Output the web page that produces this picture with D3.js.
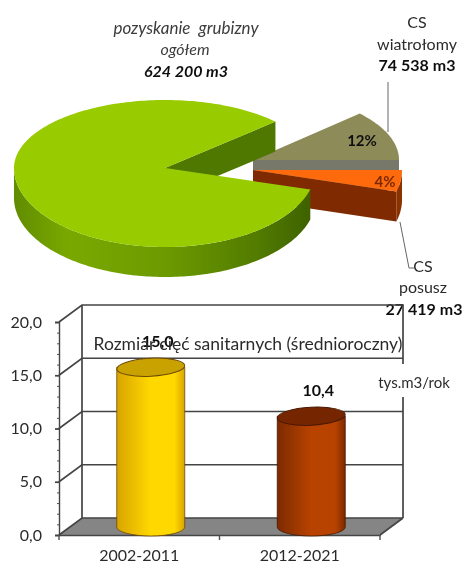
<!DOCTYPE html>
<html lang="pl">
<head>
  <meta charset="UTF-8">
  <title>Pozyskanie grubizny</title>
  <style>
    html, body { margin: 0; background: #fff; }
    svg { display: block; }
    text { font-family: Lato, "Open Sans", sans-serif; font-size: 16px; fill: #2c2c2c; }
    .bold { font-weight: 700; fill: #111; }
    .ital { font-style: italic; fill: #3c3c3c; }
    .axis path, .axis line, .frame { fill: none; stroke: #444; stroke-width: 1.7px; }
    .axis .domain { stroke-width: 1.4px; }
    .minor line { stroke: #555; stroke-width: 1px; }
    .leader { fill: none; stroke: #666; stroke-width: 1px; }
  </style>
</head>
<body>
  <script src="https://cdnjs.cloudflare.com/ajax/libs/d3/7.8.5/d3.min.js"></script>
  <script>
    // dane
    var totalVolume = 624200;
    var pieNames = ["CS wiatrolomy", "CS posusz", "pozostale"];
    var pieValues = [74538, 27419, totalVolume - 74538 - 27419];
    var barCategories = ["2002-2011", "2012-2021"];
    var barValues = [15.0, 10.4];
    var yTicks = [0, 5, 10, 15, 20];
    var yMinorTicks = d3.range(0, 21);

    // wyglad
    var sliceLayout = [
      {cx: 253, cy: 160, rx: 146, top: "#8d8b59", wall: "#78786a", cut: "#78786a"},
      {cx: 253, cy: 170, rx: 149, top: "#ff6a0d", wall: "#8c3000", cut: "#7f2c00"},
      {cx: 165, cy: 168, rx: 151, top: "#99cc00", wall: "#6a9800", cut: "#4f7800"}
    ];
    var ryBack = 68, ryFront = 79, depth = 30;
    var barColors = [
      {edge: "#d9a400", mid: "#ffd800", top: "#c9a200", line: "#6e4a00"},
      {edge: "#7c2a00", mid: "#b84300", top: "#742800", line: "#4a1800"}
    ];

    var svg = d3.select("body").append("svg").attr("width", 465).attr("height", 565);
    var defs = svg.append("defs");
    defs.append("filter").attr("id", "soft").attr("x", 0).attr("y", 0).attr("width", 1).attr("height", 1)
      .append("feGaussianBlur").attr("stdDeviation", 0.6);
    var root = svg.append("g").attr("filter", "url(#soft)");

    root.append("rect").attr("width", 465).attr("height", 565).attr("fill", "#fff");

    // --- wykres kolowy ---
    function project(s, angle, drop) {
      var v = -Math.cos(angle);
      return [s.cx + s.rx * Math.sin(angle), s.cy + v * (v < 0 ? ryBack : ryFront) + (drop || 0)];
    }

    function samples(a0, a1) {
      var n = Math.max(2, Math.ceil(Math.abs(a1 - a0) / 0.02));
      return d3.range(n + 1).map(function (i) { return a0 + (a1 - a0) * i / n; });
    }

    var greenWall = defs.append("linearGradient").attr("id", "greenWall")
      .attr("gradientUnits", "userSpaceOnUse")
      .attr("x1", 14).attr("x2", 316).attr("y1", 0).attr("y2", 0);
    [[0, "#618c00"], [0.18, "#79a900"], [0.5, "#6c9a00"], [0.8, "#527c00"], [1, "#3c5f00"]].forEach(function (d) {
      greenWall.append("stop").attr("offset", d[0]).attr("stop-color", d[1]);
    });

    var line = d3.line();
    var pie = d3.pie().sort(null).startAngle(47 * Math.PI / 180).endAngle(407 * Math.PI / 180);
    var arcs = pie(pieValues);
    var pieG = root.append("g");

    arcs.forEach(function (d, i) {
      var s = sliceLayout[i];
      var g = pieG.append("g");
      // sciana zewnetrzna (tylko przednia polowa)
      var w0 = Math.max(d.startAngle, Math.PI / 2), w1 = Math.min(d.endAngle, Math.PI * 1.5);
      if (w1 > w0) {
        var upper = samples(w0, w1).map(function (a) { return project(s, a, 0); });
        var lower = samples(w1, w0).map(function (a) { return project(s, a, depth); });
        g.append("path").attr("d", line(upper.concat(lower)) + "Z")
          .attr("fill", i === 2 ? "url(#greenWall)" : s.wall);
      }
      // sciana ciecia widoczna od przodu
      [[d.startAngle, -1], [d.endAngle, 1]].forEach(function (e) {
        if (Math.sin(e[0]) * e[1] > 0) {
          var p = project(s, e[0], 0), q = project(s, e[0], depth);
          g.append("path")
            .attr("d", line([[s.cx, s.cy], p, q, [s.cx, s.cy + depth]]) + "Z")
            .attr("fill", s.cut);
        }
      });
      var top = samples(d.startAngle, d.endAngle).map(function (a) { return project(s, a, 0); });
      g.append("path").attr("d", line([[s.cx, s.cy]].concat(top)) + "Z").attr("fill", s.top);
    });

    var pct = d3.format(".0%");
    root.append("text").attr("class", "bold").attr("x", 362).attr("y", 146).attr("text-anchor", "middle")
      .style("font-size", "15px").text(pct(pieValues[0] / totalVolume));
    root.append("text").attr("class", "bold").attr("x", 385).attr("y", 187).attr("text-anchor", "middle")
      .style("font-size", "15px").style("fill", "#7a2a00").text(pct(pieValues[1] / totalVolume));

    root.append("path").attr("class", "leader").attr("d", "M388,82V132");
    root.append("path").attr("class", "leader").attr("d", "M400,222L409,268H414");

    function label(x, y, str, cls) {
      return root.append("text").attr("x", x).attr("y", y).attr("text-anchor", "middle").attr("class", cls || null).text(str);
    }
    var num = function (v) { return d3.format(",")(v).replace(/,/g, " "); };
    label(186, 34, "pozyskanie  grubizny", "ital").style("white-space", "pre").style("font-size", "17px");
    label(185, 55, "ogółem", "ital");
    label(186, 77, num(totalVolume) + " m3", "bold").style("font-style", "italic");
    label(417, 28, "CS");
    label(417, 50, "wiatrołomy");
    label(417, 71, num(pieValues[0]) + " m3", "bold");
    label(423, 272, "CS");
    label(423, 293, "posusz");
    label(424, 315, num(pieValues[1]) + " m3", "bold");

    // --- wykres slupkowy 3D ---
    var depthX = 23, depthY = 17;
    var y = d3.scaleLinear().domain([0, 20]).range([535, 322]);
    var x = d3.scaleBand().domain(barCategories).range([59, 380]);
    var comma = function (v) { return d3.format(".1f")(v).replace(".", ","); };
    var chart = root.append("g");

    // podloga
    chart.append("path").attr("fill", "#858585")
      .attr("d", line([[x.range()[0], y(0)], [x.range()[0] + depthX, y(0) - depthY],
        [x.range()[1] + depthX, y(0) - depthY], [x.range()[1], y(0)]]) + "Z");

    // sciana tylna i siatka
    chart.selectAll(".grid").data(yTicks).enter().append("path").attr("class", "frame")
      .attr("d", function (d) {
        return line([[x.range()[0], y(d)], [x.range()[0] + depthX, y(d) - depthY], [x.range()[1] + depthX, y(d) - depthY]]);
      });
    chart.append("path").attr("class", "frame")
      .attr("d", line([[x.range()[0] + depthX, y(0) - depthY], [x.range()[0] + depthX, y(20) - depthY]]));
    chart.append("path").attr("class", "frame")
      .attr("d", line([[x.range()[1] + depthX, y(0) - depthY], [x.range()[1] + depthX, y(20) - depthY]]));
    chart.append("path").attr("class", "frame")
      .attr("d", line([[x.range()[1], y(0)], [x.range()[1] + depthX, y(0) - depthY]]));

    chart.append("g").attr("class", "axis minor").attr("transform", "translate(59,0)")
      .call(d3.axisLeft(y).tickValues(yMinorTicks).tickSize(2).tickFormat(""))
      .select(".domain").remove();
    chart.append("g").attr("class", "axis").attr("transform", "translate(59,0)")
      .call(d3.axisLeft(y).tickValues(yTicks).tickSize(4).tickPadding(13).tickFormat(comma));
    chart.append("g").attr("class", "axis").attr("transform", "translate(0,535)")
      .call(d3.axisBottom(x).tickValues(barCategories).tickSize(0).tickPadding(15));
    chart.selectAll(".bTick").data([0, 1, 2]).enter().append("line")
      .attr("stroke", "#4d4d4d").attr("stroke-width", 1.4)
      .attr("x1", function (d) { return 59 + x.step() * d; })
      .attr("x2", function (d) { return 59 + x.step() * d; })
      .attr("y1", 535).attr("y2", 540);

    // cylindry
    var barRx = 34, barRy = 9, barShiftX = 11.5, barShiftY = 8;
    barValues.forEach(function (v, i) {
      var c = barColors[i];
      var grad = defs.append("linearGradient").attr("id", "cyl" + i);
      [[0, c.edge], [0.5, c.mid], [0.85, c.mid], [1, c.edge]].forEach(function (d) {
        grad.append("stop").attr("offset", d[0]).attr("stop-color", d[1]);
      });
      var cx = x(barCategories[i]) + x.bandwidth() / 2 + barShiftX;
      var yTop = y(v) - barShiftY, yBase = y(0) - barShiftY;
      var g = chart.append("g");
      g.append("path").attr("fill", "url(#cyl" + i + ")").attr("stroke", c.line).attr("stroke-width", 0.8)
        .attr("d", "M" + (cx - barRx) + "," + yTop + "V" + yBase
          + "A" + barRx + "," + barRy + " 0 0 0 " + (cx + barRx) + "," + yBase
          + "V" + yTop + "Z");
      g.append("ellipse").attr("cx", cx).attr("cy", yTop).attr("rx", barRx).attr("ry", barRy)
        .attr("transform", "rotate(-3," + cx + "," + yTop + ")")
        .attr("fill", c.top).attr("stroke", c.line).attr("stroke-width", 1);
      label(cx + 7, yTop - 20, comma(v), "bold");
    });

    root.append("rect").attr("x", 376).attr("y", 364).attr("width", 76).attr("height", 33).attr("fill", "#fff");
    label(414, 388, "tys.m3/rok").style("font-size", "15px");
    label(248, 350, "Rozmiar cięć sanitarnych (średnioroczny)").style("font-size", "17.5px");
  </script>
</body>
</html>
